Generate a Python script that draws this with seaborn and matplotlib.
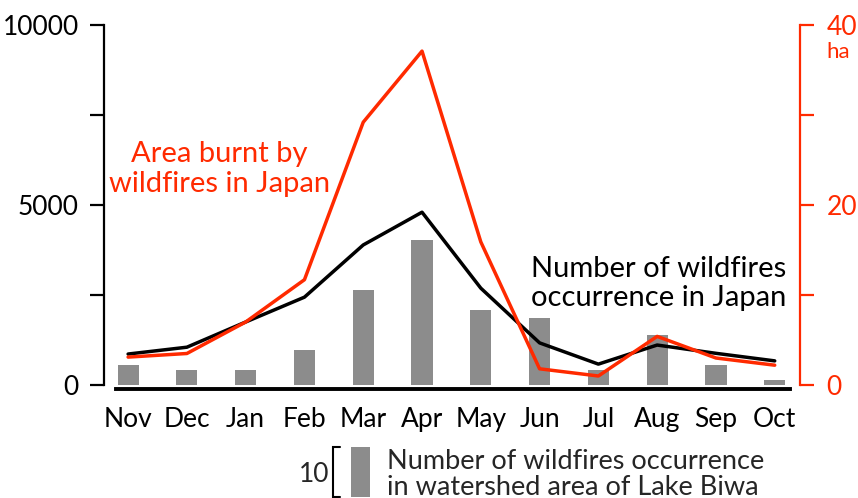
import matplotlib
matplotlib.use("Agg")
import matplotlib.pyplot as plt
import numpy as np
import pandas as pd
import seaborn as sns

months = ["Nov", "Dec", "Jan", "Feb", "Mar", "Apr", "May", "Jun", "Jul", "Aug", "Sep", "Oct"]
fires_japan = [860, 1050, 1750, 2440, 3890, 4800, 2690, 1170, 580, 1110, 880, 670]
area_burnt_ha = [3.1, 3.5, 7.0, 11.7, 29.2, 37.1, 15.9, 1.8, 1.0, 5.4, 3.0, 2.2]
fires_biwa = [4, 3, 3, 7, 19, 29, 15, 13.5, 3, 10, 4, 1]

RED = "#ff2a00"
GRAY = "#8c8c8c"

sns.set_style("white")
plt.rcParams["font.family"] = ["Lato", "DejaVu Sans"]

df = pd.DataFrame({"month": months, "x": np.arange(len(months)),
                   "fires": fires_japan, "area": area_burnt_ha, "biwa": fires_biwa})

fig = plt.figure(figsize=(8.58, 4.98), dpi=100)
ax = fig.add_axes([104 / 858, 1 - 385 / 498, 696 / 858, 360 / 498])
ax_bar = ax.twinx()
ax_red = ax.twinx()
ax.set_zorder(ax_bar.get_zorder() + 1)
ax.patch.set_visible(False)
ax_red.set_zorder(ax.get_zorder() + 1)

xlim = (-0.41, 11.43)

# bars: wildfires in Lake Biwa watershed
ax_bar.bar(df["x"], df["biwa"], width=0.36, color=GRAY, linewidth=0)
ax_bar.set_ylim(0, 72)
ax_bar.set_xlim(*xlim)
ax_bar.axis("off")

# scale bar (10 fires) below the chart
ax_bar.bar([3.95], [10], bottom=-22.4, width=0.32, color=GRAY, linewidth=0, clip_on=False)
ax_bar.plot([3.6, 3.49, 3.49, 3.6], [-12.4, -12.4, -22.4, -22.4], color="black",
            lw=1.5, clip_on=False, solid_joinstyle="miter")
ax_bar.text(3.42, -17.9, "10", ha="right", va="center", fontsize=19, clip_on=False)
ax_bar.text(4.4, -17.9, "Number of wildfires occurrence\nin watershed area of Lake Biwa",
            ha="left", va="center", fontsize=19.5, linespacing=1.08, clip_on=False)

# black line: number of wildfires in Japan
sns.lineplot(data=df, x="x", y="fires", ax=ax, color="black", lw=2.5)
ax.set_ylim(0, 10000)
ax.set_xlim(*xlim)
ax.set_yticks([0, 2500, 5000, 7500, 10000])
ax.set_yticklabels(["0", "", "5000", "", "10000"])
ax.set_xticks(df["x"])
ax.set_xticklabels(months)
ax.set_xlabel("")
ax.set_ylabel("")
for s in ["top", "right"]:
    ax.spines[s].set_visible(False)
ax.spines["left"].set_linewidth(1.6)
ax.spines["left"].set_color("black")
ax.spines["bottom"].set_linewidth(2.8)
ax.spines["bottom"].set_color("black")
ax.spines["bottom"].set_position(("outward", 3))
ax.spines["bottom"].set_bounds(-0.2, 11.26)
ax.tick_params(axis="y", length=10, width=1.6, pad=8, labelsize=19, colors="black")
ax.tick_params(axis="x", length=8, width=1.6, pad=5, labelsize=19, colors="black")

# red line: area burnt
sns.lineplot(data=df, x="x", y="area", ax=ax_red, color=RED, lw=2.5)
ax_red.set_ylim(0, 40)
ax_red.set_xlim(*xlim)
ax_red.set_yticks([0, 10, 20, 30, 40])
ax_red.set_yticklabels(["0", "", "20", "", "40"])
ax_red.set_ylabel("")
for s in ["top", "left", "bottom"]:
    ax_red.spines[s].set_visible(False)
ax_red.spines["right"].set_color(RED)
ax_red.spines["right"].set_linewidth(1.6)
ax_red.tick_params(axis="y", length=10, width=1.6, pad=9, labelsize=19, colors=RED)
ax_red.text(11.88, 37.0, "ha", color=RED, fontsize=16, ha="left", va="center")

ax.text(1.55, 6000, "Area burnt by\nwildfires in Japan", color=RED,
        fontsize=21, ha="center", va="center", linespacing=1.15)
ax.text(9.03, 2820, "Number of wildfires\noccurrence in Japan", color="black",
        fontsize=21, ha="center", va="center", linespacing=1.1)

fig.savefig("out.png", dpi=100)
